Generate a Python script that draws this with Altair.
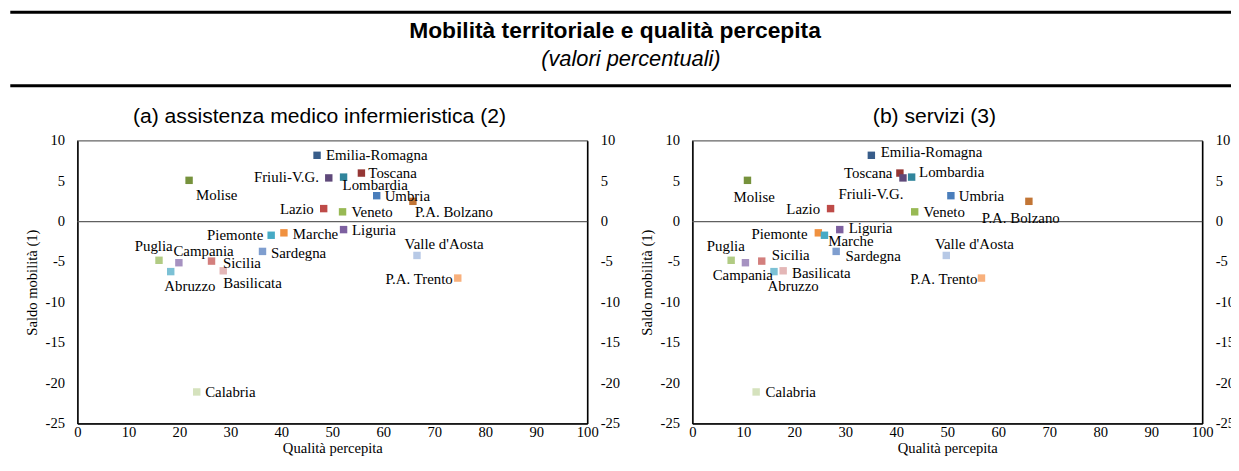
import altair as alt
import pandas as pd

# ---------------- data ----------------
regions = ["Emilia-Romagna", "Toscana", "Friuli-V.G.", "Lombardia", "Molise", "Umbria",
           "P.A. Bolzano", "Lazio", "Veneto", "Liguria", "Marche", "Piemonte", "Sardegna",
           "Valle d'Aosta", "Puglia", "Campania", "Sicilia", "Abruzzo", "Basilicata",
           "P.A. Trento", "Calabria"]
colors = ["#385d8a", "#953735", "#5f497a", "#31859c", "#76923c", "#4a7ebb",
          "#c27535", "#be4b48", "#98b954", "#7d60a0", "#f0913f", "#46aac5", "#7f9ecf",
          "#b7c9e6", "#b1cb83", "#a692c1", "#d37f7d", "#7cc1d5", "#e4b7b7",
          "#f8b07c", "#d5e2bd"]
saldo = [8.2, 6.0, 5.4, 5.5, 5.1, 3.2, 2.5, 1.6, 1.2, -1.0, -1.4, -1.7, -3.7,
         -4.2, -4.8, -5.1, -4.9, -6.2, -6.1, -7.0, -21.1]
qualita_a = [47.0, 55.7, 49.3, 52.2, 21.9, 58.7, 65.8, 48.3, 52.0, 52.2, 40.5, 38.0, 36.3,
             66.6, 16.0, 19.9, 26.3, 18.3, 28.6, 74.6, 23.4]
qualita_b = [35.1, 40.7, 41.3, 43.0, 10.8, 50.7, 66.0, 27.1, 43.6, 28.9, 24.7, 25.9, 28.2,
             49.8, 7.6, 10.4, 13.6, 16.0, 17.8, 56.7, 12.5]

x_ticks = [0, 10, 20, 30, 40, 50, 60, 70, 80, 90, 100]
y_ticks = [10, 5, 0, -5, -10, -15, -20, -25]

main_title = "Mobilità territoriale e qualità percepita"
sub_title = "(valori percentuali)"
title_a = "(a) assistenza medico infermieristica (2)"
title_b = "(b) servizi (3)"
x_title = "Qualità percepita"
y_title = "Saldo mobilità (1)"

# label placement: (dx px, dy px, align) relative to the marker
place_a = {
    "Emilia-Romagna": (9, 0, "left"), "Toscana": (7, -0.5, "left"),
    "Friuli-V.G.": (-10, -0.5, "right"), "Lombardia": (-1, 8.5, "left"),
    "Molise": (7, 14.5, "left"), "Umbria": (8, 0, "left"),
    "P.A. Bolzano": (2, 11, "left"), "Lazio": (-10, 0.5, "right"),
    "Veneto": (9, 0.5, "left"), "Liguria": (8.5, 0, "left"),
    "Marche": (9, 1.5, "left"), "Piemonte": (-8, 0, "right"),
    "Sardegna": (8.5, 1.5, "left"), "Valle d'Aosta": (-12.5, -11.5, "left"),
    "Puglia": (-24.5, -14, "left"), "Campania": (-5.5, -12, "left"),
    "Sicilia": (11.5, 1.5, "left"), "Abruzzo": (-6.5, 14.5, "left"),
    "Basilicata": (0, 12, "left"), "P.A. Trento": (-5, 1, "right"),
    "Calabria": (8.5, 0, "left"),
}
place_b = {
    "Emilia-Romagna": (9.5, -3, "left"), "Toscana": (-7.5, -0.5, "right"),
    "Friuli-V.G.": (0.5, 16.5, "right"), "Lombardia": (7.5, -5, "left"),
    "Molise": (-14, 16.5, "left"), "Umbria": (8, 0, "left"),
    "P.A. Bolzano": (-47.5, 16.5, "left"), "Lazio": (-10.5, 0.5, "right"),
    "Veneto": (9, 0.5, "left"), "Liguria": (9, -1.5, "left"),
    "Marche": (10, 8, "left"), "Piemonte": (-17, -1.5, "right"),
    "Sardegna": (9.5, 4.5, "left"), "Valle d'Aosta": (-11.5, -11.5, "left"),
    "Puglia": (-24.5, -14.5, "left"), "Campania": (-33, 12.5, "left"),
    "Sicilia": (10, -6.5, "left"), "Abruzzo": (-6.5, 14.5, "left"),
    "Basilicata": (9, 2, "left"), "P.A. Trento": (-4, 1, "right"),
    "Calabria": (9.5, 0, "left"),
}

# ---------------- style ----------------
W, H = 514, 285
X_DOMAIN = [0, 100]
Y_DOMAIN = [-25, 10]
SERIF = "Liberation Serif"
SANS = "Liberation Sans"
FS = 14.7

xscale = alt.Scale(domain=X_DOMAIN, nice=False, zero=False)
yscale = alt.Scale(domain=Y_DOMAIN, nice=False, zero=False)

common_axis = dict(labelFont=SERIF, labelFontSize=FS, labelColor="black", labelFlush=False,
                   ticks=False, domainColor="black", domainWidth=1.5, grid=False,
                   titleFont=SERIF, titleFontSize=FS, titleFontWeight="normal",
                   titleColor="black", labelExpr="datum.value + ''")
x_axis = alt.Axis(values=x_ticks, title=x_title, labelPadding=1, titlePadding=2, **common_axis)
y_axis_left = alt.Axis(values=y_ticks, title=y_title, orient="left", labelPadding=13,
                       titlePadding=6, **common_axis)
y_axis_right = alt.Axis(values=y_ticks, title=None, orient="right", labelPadding=13,
                        **common_axis)

one = pd.DataFrame({"k": [0]})


def panel(qual, place, title_text, header=False):
    df = pd.DataFrame({"region": regions, "q": qual, "s": saldo, "color": colors})
    lab = pd.DataFrame({
        "region": regions,
        "q": [q + place[r][0] * (X_DOMAIN[1] - X_DOMAIN[0]) / W for r, q in zip(regions, qual)],
        "s": [s - place[r][1] * (Y_DOMAIN[1] - Y_DOMAIN[0]) / H for r, s in zip(regions, saldo)],
        "align": [place[r][2] for r in regions],
    })
    xenc = alt.X("q:Q", scale=xscale, axis=x_axis)

    zero = alt.Chart(pd.DataFrame({"s": [0]})).mark_rule(color="#606060", strokeWidth=1.3).encode(
        y=alt.Y("s:Q", scale=yscale, axis=y_axis_right))
    pts = alt.Chart(df).mark_square(size=56, opacity=1, filled=True).encode(
        x=xenc, y=alt.Y("s:Q", scale=yscale, axis=y_axis_left),
        color=alt.Color("color:N", scale=None))
    layers = [zero, pts]
    for al in ["left", "right"]:
        layers.append(
            alt.Chart(lab).transform_filter(f"datum.align == '{al}'").mark_text(
                align=al, baseline="middle", font=SERIF, fontSize=15, color="black").encode(
                x=xenc, y=alt.Y("s:Q", scale=yscale, axis=None), text="region:N"))
    layers.append(
        alt.Chart(one).mark_text(font=SANS, fontSize=21.3, color="black", align="center",
                                 baseline="alphabetic").encode(
            x=alt.value(244), y=alt.value(-18), text=alt.value(title_text)))
    if header:
        layers += [
            alt.Chart(one).mark_rule(color="black", strokeWidth=3).encode(
                x=alt.value(-67.7), x2=alt.value(1163.3), y=alt.value(-129.5)),
            alt.Chart(one).mark_rule(color="black", strokeWidth=3).encode(
                x=alt.value(-67.7), x2=alt.value(1163.3), y=alt.value(-55.5)),
            alt.Chart(one).mark_text(font=SANS, fontSize=23, fontWeight="bold", color="black",
                                     align="center", baseline="alphabetic").encode(
                x=alt.value(542), y=alt.value(-104), text=alt.value(main_title)),
            alt.Chart(one).mark_text(font=SANS, fontSize=22, fontStyle="italic", color="black",
                                     align="center", baseline="alphabetic").encode(
                x=alt.value(558), y=alt.value(-75), text=alt.value(sub_title)),
        ]
    return alt.layer(*layers).resolve_axis(y="independent").properties(width=W, height=H)


pa = panel(qualita_a, place_a, title_a, header=True)
pb = panel(qualita_b, place_b, title_b)

chart = alt.hconcat(pa, pb, spacing=106, bounds="flush").properties(
    padding={"left": 0, "top": 0, "right": -5, "bottom": 0}, background="white"
).configure_view(stroke="#666666", strokeWidth=1.3)

chart.save("out.html", embed_options={"renderer": "svg", "actions": False})
